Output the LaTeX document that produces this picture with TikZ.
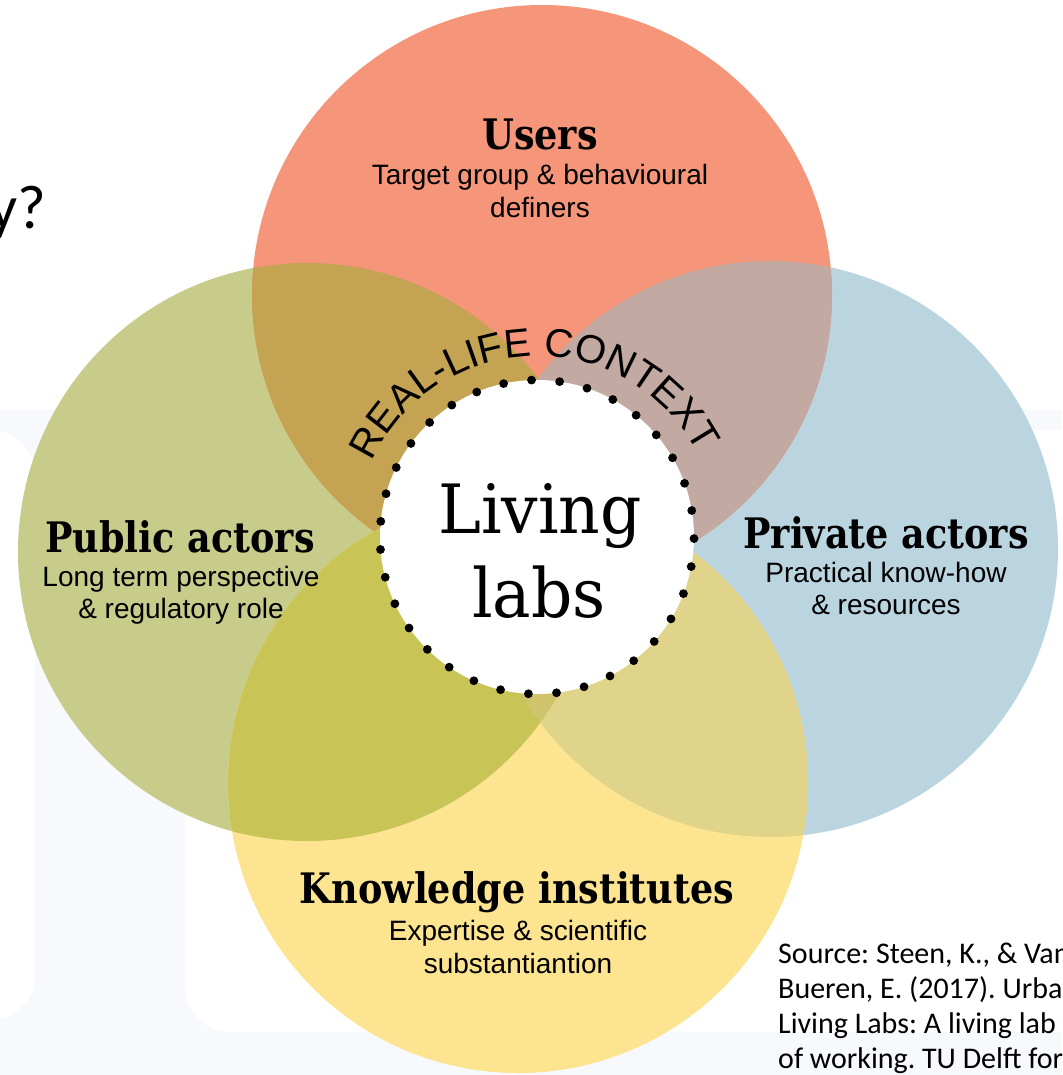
\documentclass[tikz,border=0pt]{standalone}
\usepackage{fontspec}
\usetikzlibrary{decorations.text}
\newfontfamily\slabfont{DejaVu Serif}
\newfontfamily\arialfont{Liberation Sans}
\newfontfamily\califont{Carlito}
\definecolor{cusers}{HTML}{F5957A}
\definecolor{cpublic}{HTML}{C8CC8B}
\definecolor{cprivate}{HTML}{BBD5E0}
\definecolor{cknow}{HTML}{FDE491}
\definecolor{cup}{HTML}{C4A352}
\definecolor{cuv}{HTML}{C2A9A1}
\definecolor{cpk}{HTML}{C9C456}
\definecolor{cvk}{HTML}{DFD489}
\definecolor{cpv}{HTML}{C3BE9C}
\definecolor{cpvk}{HTML}{CFC46C}
\definecolor{bglight}{HTML}{F7F9FC}
\newcommand\sqz[1]{\scalebox{0.87}[1]{#1}}
\frenchspacing
\begin{document}
\begin{tikzpicture}[x=1pt,y=1pt,
  title/.style={font=\slabfont\bfseries\fontsize{42}{42}\selectfont, inner sep=0pt, anchor=base},
  sub/.style={font=\arialfont\fontsize{28}{28}\selectfont, inner sep=0pt, anchor=base},
  big/.style={font=\slabfont\fontsize{68}{68}\selectfont, inner sep=0pt, anchor=base},
  src/.style={font=\califont\fontsize{30}{30}\selectfont, inner sep=0pt, anchor=base west}]
\useasboundingbox (0,0) rectangle (1062,-1075);
\fill[white] (0,0) rectangle (1062,-1075);
% faint background shapes
\fill[bglight] (0,-410) rectangle (1062,-1075);
\fill[white, rounded corners=45pt] (-60,-430) rectangle (35,-1020);
\fill[white, rounded corners=45pt] (185,-430) rectangle (1120,-1032);
% centres
\coordinate (cu) at (542,-295);
\coordinate (cp) at (307,-552);
\coordinate (cv) at (770,-549);
\coordinate (ck) at (518,-783);
\coordinate (cc) at (537,-537);
% base circles
\fill[cpublic] (cp) circle[radius=289];
\fill[cprivate] (cv) circle[radius=288];
\fill[cusers] (cu) circle[radius=290];
\fill[cknow] (ck) circle[radius=290];
% overlaps
\begin{scope}
  \clip (cp) circle[radius=289];
  \fill[cpv] (cv) circle[radius=288];
\end{scope}
\begin{scope}
  \clip (cu) circle[radius=290];
  \fill[cup] (cp) circle[radius=289];
  \fill[cuv] (cv) circle[radius=288];
\end{scope}
\begin{scope}
  \clip (ck) circle[radius=290];
  \fill[cpk] (cp) circle[radius=289];
  \fill[cvk] (cv) circle[radius=288];
\end{scope}
\begin{scope}
  \clip (ck) circle[radius=290];
  \clip (cp) circle[radius=289];
  \fill[cpvk] (cv) circle[radius=288];
\end{scope}
% centre disc
\fill[white] (cc) circle[radius=157];
\foreach \k in {0,...,34}
  \fill[black] (cc) ++({92+\k*360/35}:157) circle[radius=4.4];
% curved text
\path[decorate, decoration={text along path,
   text={|\arialfont\fontsize{40}{40}\selectfont|REAL-LIFE CONTEXT},
   text align=center}]
   (cc) ++(155:181) arc[start angle=155, end angle=28, radius=181];
% centre text
\node[big] (ll1) at (540,-533) {\scalebox{0.95}[1]{Living}};
\node[big] (ll2) at (539,-617) {\scalebox{0.95}[1]{labs}};
% users
\node[title] (ut) at (540,-150) {\sqz{Users}};
\node[sub] (us1) at (540,-185) {Target group \& behavioural};
\node[sub] (us2) at (540,-218) {definers};
% public
\node[title] (pt) at (180,-552) {\sqz{Public actors}};
\node[sub] (ps1) at (181,-586) {Long term perspective};
\node[sub] (ps2) at (181,-618) {\& regulatory role};
% private
\node[title] (vt) at (886,-548) {\sqz{Private actors}};
\node[sub] (vs1) at (886,-582) {Practical know-how};
\node[sub] (vs2) at (886,-614) {\& resources};
% knowledge
\node[title] (kt) at (517,-903) {\sqz{Knowledge institutes}};
\node[sub] (ks1) at (518,-940) {Expertise \& scientific};
\node[sub] (ks2) at (518,-973) {substantiantion};
% heading fragment
\node[font=\califont\fontsize{62}{62}\selectfont, inner sep=0pt, anchor=base east] (hq) at (46,-229) {y?};
% source
\node[src] (s1) at (778,-963) {Source: Steen, K., \& Van};
\node[src] (s2) at (778,-998) {Bueren, E. (2017). Urban};
\node[src] (s3) at (778,-1033) {Living Labs: A living lab way};
\node[src] (s4) at (778,-1068) {of working. TU Delft for};
\end{tikzpicture}
\end{document}
